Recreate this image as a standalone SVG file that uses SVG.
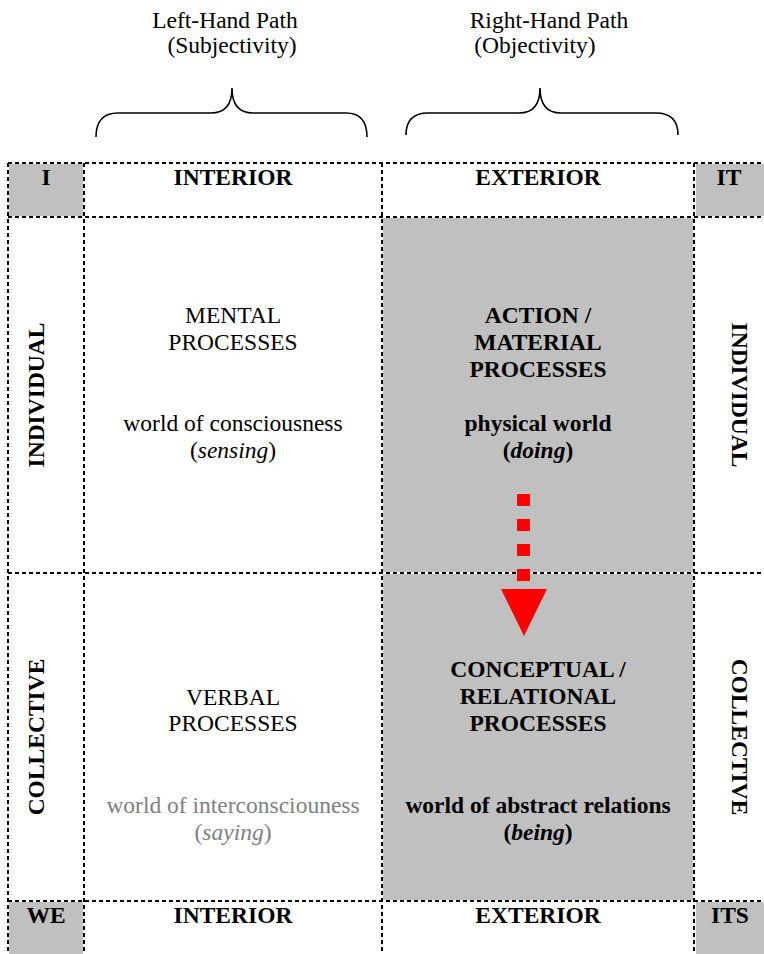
<svg xmlns="http://www.w3.org/2000/svg" width="764" height="954" viewBox="0 0 764 954">
<style>
text{font-family:"Liberation Serif","Times New Roman",serif;font-size:23.5px;fill:#000;text-anchor:middle}
.b{font-weight:bold}
.i{font-style:italic}
.g{fill:#808080}
.cell{fill:#c0c0c0}
.grid{stroke:#000;stroke-width:2;stroke-dasharray:4 3;fill:none}
.brace{stroke:#000;stroke-width:1.6;fill:none}
</style>
<rect width="764" height="954" fill="#fff"/>

<g id="paths">
  <g id="left-path">
    <text x="225" y="28">Left-Hand Path</text>
    <text x="232" y="53">(Subjectivity)</text>
    <path class="brace" d="M96,137 C96,121 104,113 118,113 L211,113 C225,113 232,104 232,88 C232,104 239,113 253,113 L346,113 C360,113 367,121 367,137"/>
  </g>
  <g id="right-path">
    <text x="549" y="28">Right-Hand Path</text>
    <text x="535" y="53">(Objectivity)</text>
    <path class="brace" d="M406,135 C406,120 414,113 428,113 L519,113 C533,113 540,104 540,88 C540,104 547,113 561,113 L656,113 C670,113 678,120 678,135"/>
  </g>
</g>

<g id="shading">
  <rect class="cell" x="9" y="164" width="74" height="52"/>
  <rect class="cell" x="696" y="164" width="68" height="52"/>
  <rect class="cell" x="383" y="218" width="310" height="354"/>
  <rect class="cell" x="383" y="574" width="310" height="326"/>
  <rect class="cell" x="9" y="902" width="74" height="52"/>
  <rect class="cell" x="696" y="902" width="68" height="52"/>
</g>

<g id="grid">
  <line class="grid" x1="8" y1="163" x2="764" y2="163"/>
  <line class="grid" x1="8" y1="217" x2="764" y2="217"/>
  <line class="grid" x1="8" y1="573" x2="764" y2="573"/>
  <line class="grid" x1="8" y1="901" x2="764" y2="901"/>
  <line class="grid" x1="8" y1="163" x2="8" y2="954"/>
  <line class="grid" x1="84" y1="163" x2="84" y2="954"/>
  <line class="grid" x1="382" y1="163" x2="382" y2="954"/>
  <line class="grid" x1="694" y1="163" x2="694" y2="954"/>
</g>

<g id="header-I"><text class="b" x="46" y="185">I</text></g>
<g id="header-interior"><text class="b" x="233" y="185">INTERIOR</text></g>
<g id="header-exterior"><text class="b" x="538" y="185">EXTERIOR</text></g>
<g id="header-IT"><text class="b" x="729" y="185">IT</text></g>

<g id="left-individual"><text class="b" transform="translate(44,395) rotate(-90)">INDIVIDUAL</text></g>
<g id="right-individual"><text class="b" transform="translate(732,395) rotate(90)">INDIVIDUAL</text></g>
<g id="left-collective"><text class="b" transform="translate(44,737) rotate(-90)">COLLECTIVE</text></g>
<g id="right-collective"><text class="b" transform="translate(732,737) rotate(90)">COLLECTIVE</text></g>

<g id="mental">
  <text x="233" y="323">MENTAL</text>
  <text x="233" y="350">PROCESSES</text>
  <text x="233" y="431">world of consciousness</text>
  <text x="233" y="458">(<tspan class="i">sensing</tspan>)</text>
</g>

<g id="action">
  <text class="b" x="538" y="323">ACTION /</text>
  <text class="b" x="538" y="350">MATERIAL</text>
  <text class="b" x="538" y="377">PROCESSES</text>
  <text class="b" x="538" y="431">physical world</text>
  <text class="b" x="538" y="458">(<tspan class="i">doing</tspan>)</text>
</g>

<g id="verbal">
  <text x="233" y="705">VERBAL</text>
  <text x="233" y="731">PROCESSES</text>
  <text class="g" x="233" y="813">world of interconsciouness</text>
  <text class="g" x="233" y="840">(<tspan class="i">saying</tspan>)</text>
</g>

<g id="conceptual">
  <text class="b" x="538" y="677">CONCEPTUAL /</text>
  <text class="b" x="538" y="704">RELATIONAL</text>
  <text class="b" x="538" y="731">PROCESSES</text>
  <text class="b" x="538" y="813">world of abstract relations</text>
  <text class="b" x="538" y="840">(<tspan class="i">being</tspan>)</text>
</g>

<g id="footer-WE"><text class="b" x="46" y="923">WE</text></g>
<g id="footer-interior"><text class="b" x="233" y="923">INTERIOR</text></g>
<g id="footer-exterior"><text class="b" x="538" y="923">EXTERIOR</text></g>
<g id="footer-ITS"><text class="b" x="730" y="923">ITS</text></g>

<g id="connectors">
  <line x1="523.5" y1="494" x2="523.5" y2="582" stroke="#ff0000" stroke-width="13" stroke-dasharray="12 13"/>
  <polygon points="501,589 547,589 524,636" fill="#ff0000"/>
</g>
</svg>
